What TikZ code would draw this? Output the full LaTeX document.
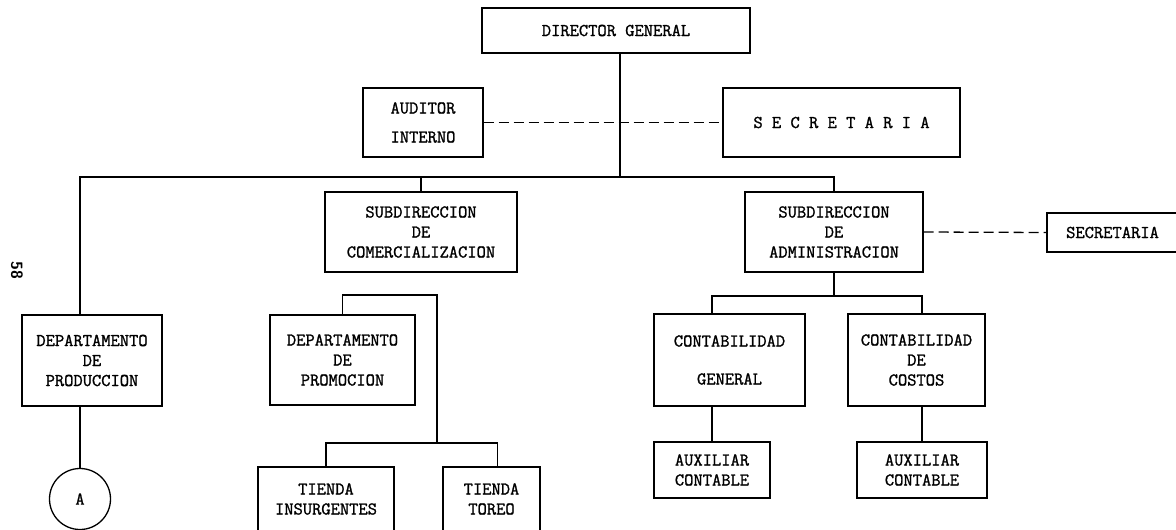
\documentclass[tikz,border=0pt]{standalone}
\usepackage{fontspec}
\newfontfamily\chartfont{Latin Modern Mono}[FakeBold=1.3]
\begin{document}
\begin{tikzpicture}[x=1pt,y=-1pt,line width=1.3pt,
  box/.style={draw,rectangle,inner sep=0pt,align=center,
    font=\chartfont\fontsize{18}{20}\selectfont},
  dashline/.style={dash pattern=on 10pt off 5pt},
  link/.style={line cap=rect}]

\useasboundingbox (0,0) rectangle (1176,530);

% -- page number
\node [rotate=-90,font=\sffamily\bfseries\fontsize{16}{16}\selectfont] (pag) at (17,270) {58};

% -- top
\node [box,minimum width=268pt,minimum height=45pt] (dir) at (616,30.5) {DIRECTOR GENERAL};
\node [box,minimum width=120pt,minimum height=69pt] (aud) at (423,122.5) {AUDITOR\\[9pt]INTERNO};
\node [box,minimum width=237pt,minimum height=69pt] (sec) at (841.5,122.5) {S E C R E T A R I A};

% -- subdirecciones
\node [box,minimum width=192pt,minimum height=80pt] (subcom) at (421,232) {SUBDIRECCION\\DE\\COMERCIALIZACION};
\node [box,minimum width=178pt,minimum height=80pt] (subadm) at (834,232) {SUBDIRECCION\\DE\\ADMINISTRACION};
\node [box,minimum width=131pt,minimum height=39pt] (sec2) at (1112.5,232.5) {SECRETARIA};

% -- departamentos
\node [box,minimum width=140pt,minimum height=91pt] (dprod) at (92,360.5) {DEPARTAMENTO\\DE\\PRODUCCION};
\node [box,circle,minimum size=61pt] (A) at (80,499) {A};
\node [box,minimum width=145pt,minimum height=90pt] (dprom) at (342.5,360) {DEPARTAMENTO\\DE\\PROMOCION};
\node [box,minimum width=136pt,minimum height=64pt] (tins) at (326,499) {TIENDA\\INSURGENTES};
\node [box,minimum width=97pt,minimum height=64pt] (ttor) at (491.5,499) {TIENDA\\TOREO};

% -- contabilidad
\node [box,minimum width=151pt,minimum height=92pt] (cgen) at (729.5,360) {CONTABILIDAD\\[18pt]GENERAL};
\node [box,minimum width=137pt,minimum height=92pt] (ccos) at (916.5,360) {CONTABILIDAD\\DE\\COSTOS};
\node [box,minimum width=116pt,minimum height=56pt] (aux1) at (712,470) {AUXILIAR\\CONTABLE};
\node [box,minimum width=130pt,minimum height=56pt] (aux2) at (922,470) {AUXILIAR\\CONTABLE};

% -- joints
\coordinate (trunk) at (620,177);
\coordinate (barL) at (80,177);
\coordinate (bk) at (437,295);
\coordinate (tbar) at (437,443);
\coordinate (abar) at (834,296);

% -- draw lines
\draw[link] (dir.south -| trunk) -- (trunk);
\draw[link] (dprod.north -| barL) -- (barL) -- (barL -| subadm.north) -- (subadm.north);
\draw[link] (subcom.north |- barL) -- (subcom.north);
\draw[link] (dprod.south -| A) -- (A);

\draw[dashline] (aud.east) -- (sec.west);
\draw[dashline] (subadm.east) -- (sec2.west);

\draw[link] (dprom.north) |- (bk) -- (tbar);
\draw[link] (tins.north) |- (tbar) -| ([xshift=6pt]ttor.north);

\draw[link] (subadm.south) -- (subadm.south |- abar);
\draw[link] (cgen.north -| aux1) |- (abar) -| (ccos.north -| aux2);
\draw[link] (cgen.south -| aux1) -- (aux1);
\draw[link] (ccos.south -| aux2) -- (aux2);
\end{tikzpicture}
\end{document}
